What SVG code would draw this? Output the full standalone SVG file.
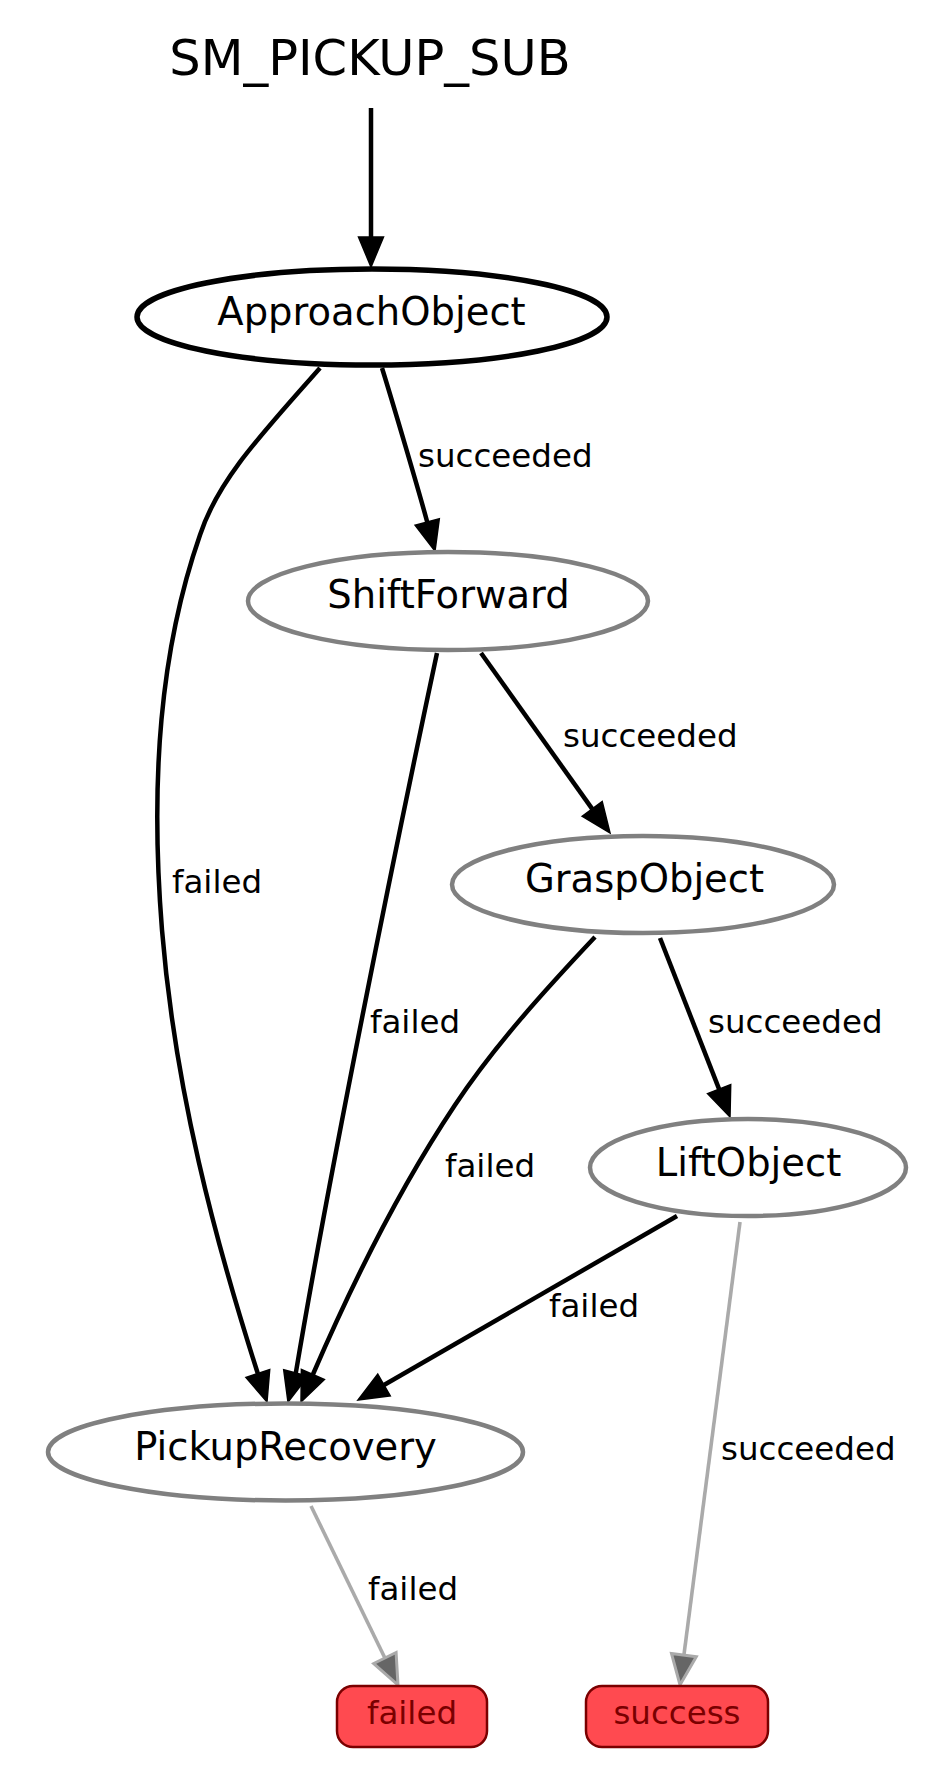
<svg xmlns="http://www.w3.org/2000/svg" width="946" height="1768" viewBox="0 0 946 1768">
<style>
  text { font-family: "DejaVu Sans", "Liberation Sans", sans-serif; }
  .title { font-size: 49.5px; fill: #000; text-anchor: middle; }
  .nlabel { font-size: 38.5px; fill: #000; text-anchor: middle; }
  .elabel { font-size: 32.5px; fill: #000; }
  .tlabel { font-size: 32.5px; fill: #7a0000; text-anchor: middle; }
  .state { fill: #fff; stroke: #808080; stroke-width: 4.5; }
  .active { fill: #fff; stroke: #000; stroke-width: 5.5; }
  .term { fill: #ff4a50; stroke: #7a0000; stroke-width: 2.5; }
  .edge { fill: none; stroke: #000; stroke-width: 4.5; }
  .edge-g { fill: none; stroke: #aaaaaa; stroke-width: 3.6; }
  .head { fill: #000; stroke: #000; stroke-width: 1.5; }
  .head-g { fill: #666666; stroke: #aaaaaa; stroke-width: 3; stroke-linejoin: miter; }
</style>
<rect x="0" y="0" width="946" height="1768" fill="#fff"/>
<g id="title">
  <text class="title" x="370" y="75">SM_PICKUP_SUB</text>
</g>
<g id="connectors">
  <path class="edge" d="M371,108 L371,237"/>
  <polygon class="head" points="358.5,237 383.5,237 371,267"/>

  <path class="edge" d="M382,368 C392,400 420,495 427.2,522"/>
  <polygon class="head" points="415.1,525.3 439.3,518.8 435,551"/>
  <text class="elabel" x="418" y="467">succeeded</text>

  <path class="edge" d="M320,368 C260,436 218,480 200,535 C160,650 150,780 162,930 C175,1090 215,1240 257.8,1373.5"/>
  <polygon class="head" points="245.9,1377.4 269.7,1369.6 267,1402"/>
  <text class="elabel" x="172" y="893">failed</text>

  <path class="edge" d="M481,653 L592.2,808.9"/>
  <polygon class="head" points="582.1,816.3 602.2,801.5 610,833"/>
  <text class="elabel" x="563" y="747">succeeded</text>

  <path class="edge" d="M437,653 C395,850 330,1170 295.8,1373"/>
  <polygon class="head" points="283.7,1369.8 307.9,1376.3 288,1402"/>
  <text class="elabel" x="370" y="1033">failed</text>

  <path class="edge" d="M595,937 C545,990 495,1045 455,1105 C395,1195 345,1300 312.9,1374.5"/>
  <polygon class="head" points="301.4,1369.5 324.4,1379.5 301,1402"/>
  <text class="elabel" x="445" y="1177">failed</text>

  <path class="edge" d="M660,938 L719.1,1089.1"/>
  <polygon class="head" points="707.5,1093.6 730.7,1084.5 730,1117"/>
  <text class="elabel" x="708" y="1033">succeeded</text>

  <path class="edge" d="M677,1216 L384,1385"/>
  <polygon class="head" points="377.75,1374.2 390.25,1395.8 358,1400"/>
  <text class="elabel" x="549" y="1317">failed</text>

  <path class="edge-g" d="M311,1506 L384.9,1658"/>
  <polygon class="head-g" points="373.7,1663.5 396.1,1652.5 398,1685"/>
  <text class="elabel" x="368" y="1600">failed</text>

  <path class="edge-g" d="M740,1222 L683.9,1655.2"/>
  <polygon class="head-g" points="671.5,1653.6 696.3,1656.8 680,1685"/>
  <text class="elabel" x="721" y="1460">succeeded</text>
</g>
<g id="ApproachObject">
  <ellipse class="active" cx="372" cy="317" rx="235" ry="48"/>
  <text class="nlabel" x="371.5" y="325">ApproachObject</text>
</g>
<g id="ShiftForward">
  <ellipse class="state" cx="448" cy="601" rx="200" ry="49"/>
  <text class="nlabel" x="448.5" y="608">ShiftForward</text>
</g>
<g id="GraspObject">
  <ellipse class="state" cx="643" cy="884.5" rx="191" ry="48.5"/>
  <text class="nlabel" x="644.5" y="892">GraspObject</text>
</g>
<g id="LiftObject">
  <ellipse class="state" cx="748" cy="1167.5" rx="158" ry="48.5"/>
  <text class="nlabel" x="748.5" y="1176">LiftObject</text>
</g>
<g id="PickupRecovery">
  <ellipse class="state" cx="285.5" cy="1452" rx="237.5" ry="48.5"/>
  <text class="nlabel" x="285.5" y="1460">PickupRecovery</text>
</g>
<g id="failed">
  <rect class="term" x="337" y="1686" width="150" height="61" rx="16" ry="16"/>
  <text class="tlabel" x="412" y="1724">failed</text>
</g>
<g id="success">
  <rect class="term" x="586" y="1686" width="182" height="61" rx="16" ry="16"/>
  <text class="tlabel" x="677" y="1724">success</text>
</g>
</svg>
